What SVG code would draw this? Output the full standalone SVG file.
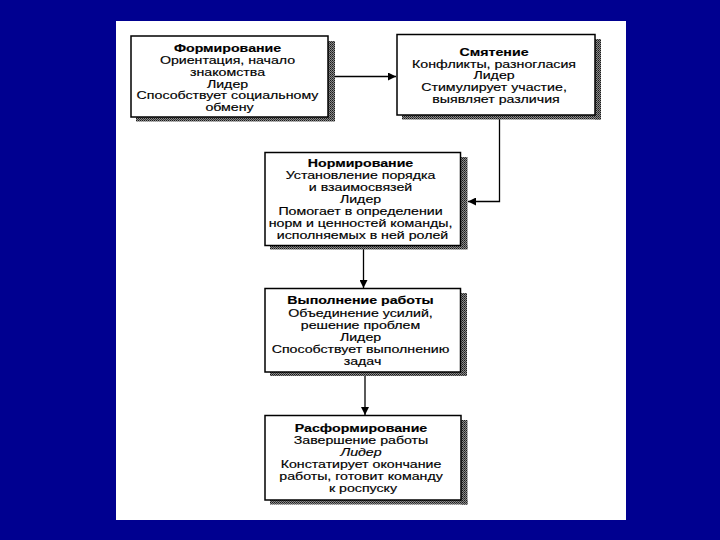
<svg xmlns="http://www.w3.org/2000/svg" width="720" height="540" viewBox="0 0 720 540">
  <defs>
    <style>
      .bg { fill: #000090; }
      .panel { fill: #ffffff; }
      .box { fill: #ffffff; stroke: #000000; stroke-width: 1.5; }
      .shadow { fill: url(#dither); }
      .t { font-family: "Liberation Sans", Arial, sans-serif; font-size: 10.2px; fill: #000000; stroke: #000000; stroke-width: 0.15; text-anchor: middle; }
      .b { font-weight: bold; }
      .i { font-style: italic; }
      .conn { fill: none; stroke: #000000; stroke-width: 1.3; }
    </style>
    <pattern id="dither" width="2" height="2" patternUnits="userSpaceOnUse">
      <rect width="2" height="2" fill="#8a8a8a"/>
      <rect width="1" height="1" fill="#1a1a1a"/>
      <rect x="1" y="1" width="1" height="1" fill="#3a3a3a"/>
    </pattern>
    <marker id="arrow" viewBox="0 0 10 10" refX="10" refY="5" markerWidth="8" markerHeight="8" markerUnits="userSpaceOnUse" orient="auto">
      <path d="M0,0 L10,5 L0,10 Z" fill="#000000"/>
    </marker>
  </defs>

  <rect class="bg" x="0" y="0" width="720" height="540"/>
  <rect class="panel" x="116" y="21" width="510" height="499"/>

  <g id="connectors">
    <path class="conn" d="M328,76.5 H396" marker-end="url(#arrow)"/>
    <path class="conn" d="M499.5,116 V201.5 H468" marker-end="url(#arrow)"/>
    <path class="conn" d="M363.5,249 V288" marker-end="url(#arrow)"/>
    <path class="conn" d="M365,376 V415" marker-end="url(#arrow)"/>
  </g>

  <g id="node-formirovanie">
    <rect class="shadow" x="328" y="41" width="7" height="80"/>
    <rect class="shadow" x="136" y="117" width="199" height="4.5"/>
    <rect class="box" x="131" y="36" width="197" height="81"/>
    <text class="t" transform="translate(229.5 0) scale(1.39 1)">
      <tspan class="b" x="0" y="52">Формирование</tspan>
      <tspan x="0" y="64">Ориентация, начало</tspan>
      <tspan x="0" y="76">знакомства</tspan>
      <tspan x="0" y="88">Лидер</tspan>
      <tspan x="0" y="99.5">Способствует социальному</tspan>
      <tspan x="0" y="111.5">обмену</tspan>
    </text>
  </g>

  <g id="node-smyatenie">
    <rect class="shadow" x="595" y="39" width="6" height="80.5"/>
    <rect class="shadow" x="402" y="115" width="199" height="4.5"/>
    <rect class="box" x="397" y="34.5" width="198" height="80.5"/>
    <text class="t" transform="translate(496 0) scale(1.39 1)">
      <tspan class="b" x="0" y="56.5">Смятение</tspan>
      <tspan x="0" y="68">Конфликты, разногласия</tspan>
      <tspan x="0" y="79.5">Лидер</tspan>
      <tspan x="0" y="91.5">Стимулирует участие,</tspan>
      <tspan x="0" y="103.5">выявляет различия</tspan>
    </text>
  </g>

  <g id="node-normirovanie">
    <rect class="shadow" x="460.5" y="157" width="7" height="92"/>
    <rect class="shadow" x="270" y="245.5" width="197.5" height="4"/>
    <rect class="box" x="265" y="152.5" width="195.5" height="93"/>
    <text class="t" transform="translate(362.5 0) scale(1.39 1)">
      <tspan class="b" x="0" y="167.5">Нормирование</tspan>
      <tspan x="0" y="179.5">Установление порядка</tspan>
      <tspan x="0" y="191.5">и взаимосвязей</tspan>
      <tspan x="0" y="203">Лидер</tspan>
      <tspan x="0" y="215">Помогает в определении</tspan>
      <tspan x="0" y="227">норм и ценностей команды,</tspan>
      <tspan x="0" y="239">исполняемых в ней ролей</tspan>
    </text>
  </g>

  <g id="node-vypolnenie">
    <rect class="shadow" x="460.5" y="293" width="6.5" height="83"/>
    <rect class="shadow" x="270" y="372" width="197" height="4"/>
    <rect class="box" x="265" y="288.5" width="195.5" height="83.5"/>
    <text class="t" transform="translate(362.5 0) scale(1.39 1)">
      <tspan class="b" x="0" y="304.5">Выполнение работы</tspan>
      <tspan x="0" y="317">Объединение усилий,</tspan>
      <tspan x="0" y="329">решение проблем</tspan>
      <tspan x="0" y="341">Лидер</tspan>
      <tspan x="0" y="353">Способствует выполнению</tspan>
      <tspan x="0" y="365">задач</tspan>
    </text>
  </g>

  <g id="node-rasformirovanie">
    <rect class="shadow" x="461" y="420" width="6.5" height="84.5"/>
    <rect class="shadow" x="270" y="500" width="197.5" height="4.5"/>
    <rect class="box" x="265" y="415.5" width="196" height="84.5"/>
    <text class="t" transform="translate(363 0) scale(1.39 1)">
      <tspan class="b" x="0" y="432">Расформирование</tspan>
      <tspan x="0" y="444">Завершение работы</tspan>
      <tspan class="i" x="0" y="456">Лидер</tspan>
      <tspan x="0" y="468">Констатирует окончание</tspan>
      <tspan x="0" y="480">работы, готовит команду</tspan>
      <tspan x="0" y="492">к роспуску</tspan>
    </text>
  </g>
</svg>
